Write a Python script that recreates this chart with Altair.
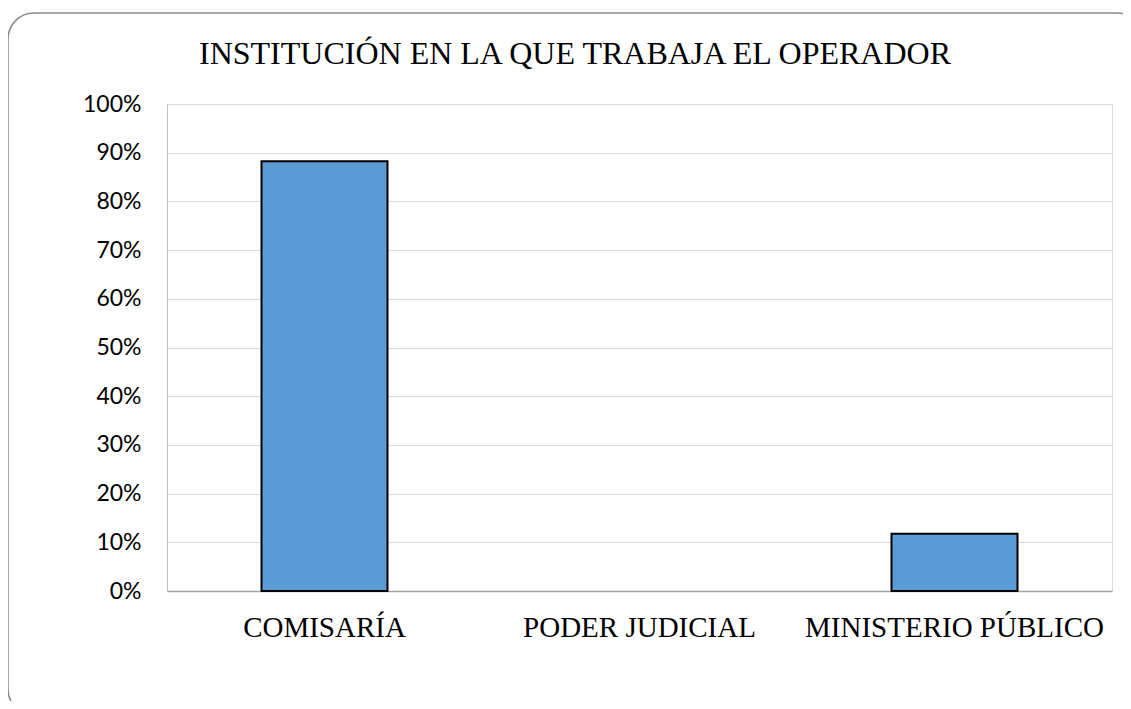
import altair as alt
import pandas as pd

title_text = "INSTITUCIÓN EN LA QUE TRABAJA EL OPERADOR"
categories = ["COMISARÍA", "PODER JUDICIAL", "MINISTERIO PÚBLICO"]
values = [0.8824, 0.0, 0.1176]
y_ticks = [0, 0.1, 0.2, 0.3, 0.4, 0.5, 0.6, 0.7, 0.8, 0.9, 1.0]

df = pd.DataFrame({"cat": categories, "val": values})
one_df = pd.DataFrame({"t": [title_text]})

bars = alt.Chart(df).transform_filter("datum.val > 0").mark_bar(
    color="#5b9bd5", stroke="#000000", strokeWidth=2
).encode(
    x=alt.X("cat:N", sort=categories,
            scale=alt.Scale(domain=categories, paddingInner=0.6, paddingOuter=0.3),
            axis=alt.Axis(title=None, labelAngle=0, labelFont="Liberation Serif",
                          labelFontSize=29, labelColor="#000000", ticks=False,
                          labelPadding=22, labelBaseline="top", labelLimit=0,
                          domainColor="#a6a6a6", domainWidth=1.5)),
    y=alt.Y("val:Q", scale=alt.Scale(domain=[0, 1], nice=False),
            axis=alt.Axis(title=None, format=".0%", values=y_ticks, labelFont="Lato",
                          labelFontSize=23, labelColor="#000000", ticks=False,
                          labelPadding=26, gridColor="#d9d9d9", gridWidth=1,
                          domainColor="#bfbfbf", domainWidth=1)),
)

frame = alt.Chart(one_df).mark_rect(
    fill=None, stroke="#8c8c8c", strokeWidth=1.5, cornerRadius=26
).encode(
    x=alt.value(-159), x2=alt.value(977), y=alt.value(-91), y2=alt.value(611)
)

title = alt.Chart(one_df).mark_text(
    font="Liberation Serif", fontSize=32, color="#000000",
    align="center", baseline="alphabetic"
).encode(
    text="t:N", x=alt.value(408), y=alt.value(-40)
)

chart = alt.layer(frame, title, bars).properties(
    width=945, height=487,
    autosize=alt.AutoSizeParams(type="none"),
    padding={"left": 159, "top": 96, "right": 11, "bottom": 110},
).configure_view(stroke=None).configure(background="#ffffff")

chart.save("out.html", embed_options={"renderer": "svg", "actions": False})
